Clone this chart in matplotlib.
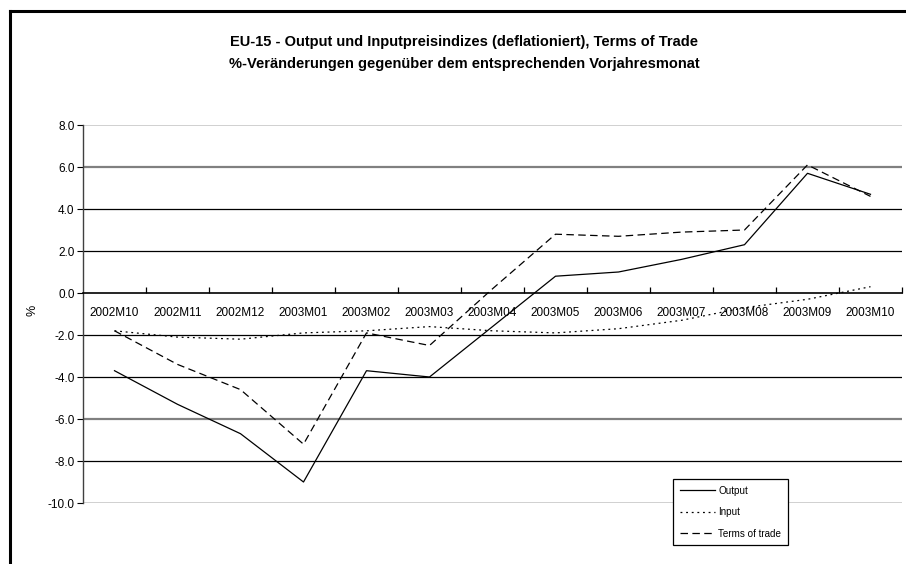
import matplotlib
matplotlib.use("Agg")
import matplotlib.pyplot as plt
from matplotlib.lines import Line2D
import numpy as np

# ---- data ---------------------------------------------------------------
MONTHS = ["2002M10", "2002M11", "2002M12", "2003M01", "2003M02", "2003M03", "2003M04",
          "2003M05", "2003M06", "2003M07", "2003M08", "2003M09", "2003M10"]
OUTPUT = [-3.7, -5.3, -6.7, -9.0, -3.7, -4.0, -1.6, 0.8, 1.0, 1.6, 2.3, 5.7, 4.7]
INPUT = [-1.8, -2.1, -2.2, -1.9, -1.8, -1.6, -1.8, -1.9, -1.7, -1.3, -0.7, -0.3, 0.3]
TOT = [-1.8, -3.4, -4.6, -7.2, -1.9, -2.5, 0.2, 2.8, 2.7, 2.9, 3.0, 6.1, 4.6]

TITLE = ("EU-15 - Output und Inputpreisindizes (deflationiert), Terms of Trade\n"
         "%-Veränderungen gegenüber dem entsprechenden Vorjahresmonat")

plt.rcParams["font.family"] = ["Liberation Sans", "DejaVu Sans"]

W, H = 906, 564
fig = plt.figure(figsize=(W / 100, H / 100), dpi=100)

# outer chart-area frame (left + top edges visible)
fig.add_artist(Line2D([10 / W, 10 / W], [0, 1 - 11 / H], color="black", lw=2.2,
                      transform=fig.transFigure))
fig.add_artist(Line2D([10 / W, 1], [1 - 11 / H, 1 - 11 / H], color="black", lw=2.2,
                      transform=fig.transFigure))

fig.text(464 / W, 1 - 53 / H, TITLE, ha="center", va="center", fontsize=10.5,
         fontweight="bold", linespacing=1.7)

ax = fig.add_axes([83 / W, 1 - 503 / H, (902 - 83) / W, (503 - 125) / H])
x = np.arange(len(MONTHS))

# horizontal gridlines (colours as rendered in the original)
grid_style = {8: ("#c8c8c8", 1.2), 6: ("#808080", 1.6), 4: ("black", 0.9),
              2: ("black", 0.9), -2: ("black", 0.9), -4: ("black", 0.9),
              -6: ("#808080", 1.6), -8: ("black", 0.9), -10: ("#c8c8c8", 1.2)}
for yv, (c, lw) in grid_style.items():
    ax.axhline(yv, color=c, lw=lw, zorder=1)

ax.plot(x, OUTPUT, color="black", lw=0.9, ls="-", label="Output", zorder=3)
ax.plot(x, INPUT, color="black", lw=0.9, ls=(0, (1.5, 3)), label="Input", zorder=3)
ax.plot(x, TOT, color="black", lw=0.9, ls=(0, (6, 3.5)), label="Terms of trade", zorder=3)

ax.set_xlim(-0.5, len(MONTHS) - 0.5)
ax.set_ylim(-10, 8)
ax.set_yticks(np.arange(-10, 9, 2))
ax.set_yticklabels([f"{v:.1f}" for v in np.arange(-10, 9, 2)], fontsize=8.5)
ax.tick_params(axis="y", length=4, width=0.8, pad=2)

for s in ("top", "right"):
    ax.spines[s].set_visible(False)
ax.spines["bottom"].set_position(("data", 0))
ax.spines["bottom"].set_linewidth(1.2)
ax.spines["left"].set_color("#404040")
ax.spines["left"].set_linewidth(1.0)

ax.set_xticks(x)
ax.set_xticklabels(MONTHS, fontsize=8.5)
ax.tick_params(axis="x", which="major", length=0, pad=10)
ax.set_xticks(np.arange(0.5, len(MONTHS), 1), minor=True)
ax.tick_params(axis="x", which="minor", direction="in", length=4, width=0.9)

ax.set_ylabel("%", fontsize=9)
ax.yaxis.set_label_coords(-45 / (902 - 83), (503 - 310) / (503 - 125))

leg = ax.legend(loc="upper left", bbox_to_anchor=((673 - 83) / (902 - 83), (503 - 479) / (503 - 125)),
                fontsize=7.1, frameon=True, fancybox=False, framealpha=1,
                edgecolor="black", handlelength=3.6, handletextpad=0.3,
                labelspacing=1.15, borderpad=0.7, borderaxespad=0)
leg.get_frame().set_linewidth(0.9)
leg.set_zorder(5)

fig.savefig("out.png", dpi=100)
